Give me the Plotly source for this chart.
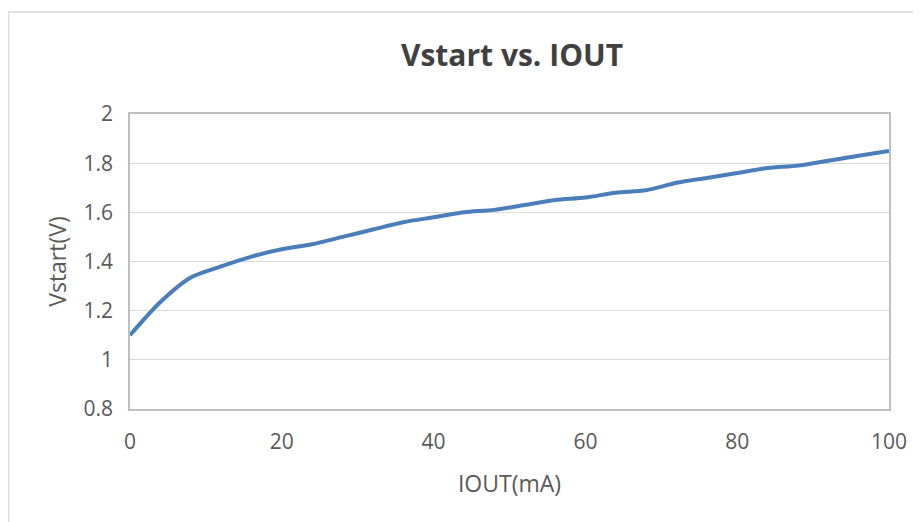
import plotly.graph_objects as go

iout_ma = [0, 4, 8, 12, 16, 20, 24, 28, 32, 36, 40, 44, 48, 52, 56, 60, 64, 68, 72, 76, 80, 84, 88, 92, 96, 100]
vstart_v = [1.10, 1.235, 1.335, 1.38, 1.42, 1.45, 1.47, 1.50, 1.53, 1.56, 1.58, 1.60, 1.61, 1.63, 1.65, 1.66, 1.68, 1.69, 1.72, 1.74, 1.76, 1.78, 1.79, 1.81, 1.83, 1.85]
x_ticks = [0, 20, 40, 60, 80, 100]
y_ticks = [0.8, 1.0, 1.2, 1.4, 1.6, 1.8, 2.0]
y_tick_text = ["0.8", "1", "1.2", "1.4", "1.6", "1.8", "2"]

OFF = 8  # page body margin
W, H = 921 - OFF, 522 - OFF
L, R, T, B = 130 - OFF, 921 - 889, 114 - OFF, 522 - 409
pw, ph = W - L - R, H - T - B

def px_x(p):
    return (p - OFF - L) / pw

def px_y(p):
    return (H - B - (p - OFF)) / ph

fig = go.Figure()
fig.add_trace(go.Scatter(
    x=iout_ma, y=vstart_v, mode="lines",
    line=dict(color="#4a7ebb", width=4, shape="spline", smoothing=0.8),
    showlegend=False, hoverinfo="skip"))

font = "Open Sans, Noto Sans, sans-serif"
fig.update_layout(
    width=W, height=H,
    margin=dict(l=L, r=R, t=T, b=B),
    paper_bgcolor="white", plot_bgcolor="white",
    title=dict(text="<b>Vstart vs. IOUT</b>", x=px_x(512), xref="paper", xanchor="center",
               y=1 - (55 - OFF) / H, yanchor="middle",
               font=dict(family=font, size=30, color="#404040")),
    xaxis=dict(range=[0, 100], tickvals=x_ticks, showgrid=False,
               showline=True, linecolor="#bfbfbf", linewidth=1.5, mirror=True,
               ticks="outside", ticklen=13, tickcolor="rgba(0,0,0,0)",
               tickfont=dict(family=font, size=21, color="#595959"),
               title=dict(text="IOUT(mA)", standoff=22,
                          font=dict(family=font, size=23, color="#595959")),
               zeroline=False),
    yaxis=dict(range=[0.8, 2.0], tickvals=y_ticks, ticktext=y_tick_text,
               showgrid=True, gridcolor="#d9d9d9", gridwidth=1.2,
               showline=True, linecolor="#bfbfbf", linewidth=1.5, mirror=True,
               ticks="outside", ticklen=11, tickcolor="rgba(0,0,0,0)",
               tickfont=dict(family=font, size=21, color="#595959"),
               title=dict(text="Vstart(V)", standoff=10,
                          font=dict(family=font, size=23, color="#595959")),
               zeroline=False),
    shapes=[
        dict(type="rect", xref="paper", yref="paper",
             x0=px_x(8.5), x1=px_x(919), y0=px_y(540), y1=px_y(12),
             line=dict(color="#d9d9d9", width=1.5), fillcolor="rgba(0,0,0,0)", layer="below"),
    ],
)

fig.write_html("out.html")
